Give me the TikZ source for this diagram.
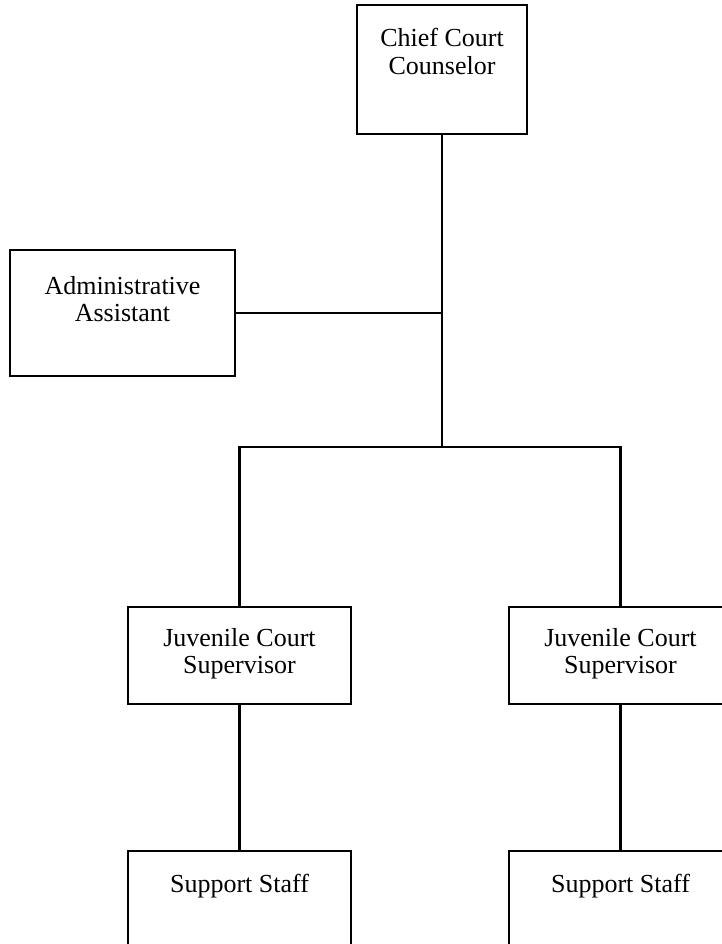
\documentclass[tikz,border=0pt]{standalone}
\usepackage{fontspec}
\setmainfont{Liberation Serif}
\begin{document}
\begin{tikzpicture}[x=1pt,y=1pt,
  box/.style={draw, line width=1.6pt, rectangle, inner sep=0pt},
  txt/.style={align=center, anchor=north, inner sep=0pt, font=\fontsize{26}{27.5}\selectfont},
  link/.style={line width=2.2pt}]
\clip (0,0) rectangle (722,-944);
\node[box, minimum width=170pt, minimum height=129pt] (chief) at (442,-69.5) {};
\node[box, minimum width=225pt, minimum height=126pt] (admin) at (122.5,-313) {};
\node[box, minimum width=223pt, minimum height=97pt] (juvL) at (239.5,-655.5) {};
\node[box, minimum width=223pt, minimum height=97pt] (juvR) at (620.5,-655.5) {};
\node[box, minimum width=223pt, minimum height=120pt] (staffL) at (239.5,-911) {};
\node[box, minimum width=223pt, minimum height=120pt] (staffR) at (620.5,-911) {};
\node[txt] (chiefT) at ([yshift=-24pt]chief.north) {Chief Court\\Counselor};
\node[txt] (adminT) at ([yshift=-27pt]admin.north) {Administrative\\Assistant};
\node[txt] (juvLT) at ([yshift=-22pt]juvL.north) {Juvenile Court\\Supervisor};
\node[txt] (juvRT) at ([yshift=-22pt]juvR.north) {Juvenile Court\\Supervisor};
\node[txt] (staffLT) at ([yshift=-24pt]staffL.north) {Support Staff};
\node[txt] (staffRT) at ([yshift=-24pt]staffR.north) {Support Staff};
\coordinate (j) at (442,-447);
\draw[link] (chief.south) -- (j);
\draw[link] (admin.east) -- (admin.east -| chief.south);
\draw[link] (juvL.north) |- (j) -| (juvR.north);
\draw[link] (juvL.south) -- (staffL.north);
\draw[link] (juvR.south) -- (staffR.north);
\end{tikzpicture}
\end{document}
